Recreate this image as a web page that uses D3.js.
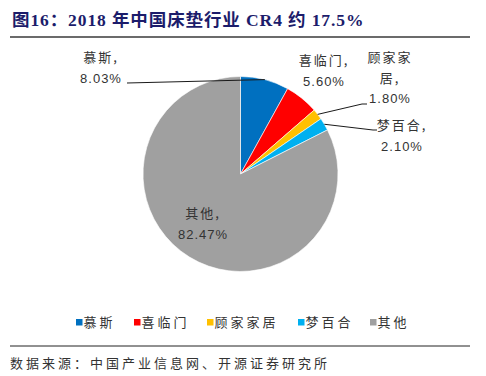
<!DOCTYPE html>
<html><head><meta charset="utf-8">
<script src="https://cdn.jsdelivr.net/npm/d3@7/dist/d3.min.js"></script>
<style>
html,body{margin:0;padding:0;background:#fff;}
svg{display:block;}
</style>
</head><body>
<div id="chart"></div>
<script>
// ---- data ----
const titleText = "图16：2018 年中国床垫行业 CR4 约 17.5%";
const sourceText = "数据来源：中国产业信息网、开源证券研究所";
const categories = ["慕斯", "喜临门", "顾家家居", "梦百合", "其他"];
const values = [8.03, 5.60, 1.80, 2.10, 82.47];
const valueLabels = ["8.03%", "5.60%", "1.80%", "2.10%", "82.47%"];
const nameLines = [["慕斯,"], ["喜临门,"], ["顾家家", "居,"], ["梦百合,"], ["其他,"]];
const colors = ["#0070C0", "#FF0000", "#FFC000", "#00B0F0", "#A0A0A0"];

// ---- layout (not data) ----
const W = 486, H = 376;
const cx = 240.5, cy = 174, R = 97.5;
// label anchor points (center x, first baseline y)
const labelPos = [[101, 62], [324, 65], [390, 62], [402, 130], [203, 218]];
const lineH = 20.5;
// leader line end points (null = no leader)
const leaderEnds = [[[127, 83]], null, [[362, 104], [367, 104]], [[373, 130], [377, 130]], null];

const svg = d3.select("#chart").append("svg").attr("width", W).attr("height", H);

const cjk = "'Noto Sans CJK SC', 'Noto Sans CJK JP', sans-serif";
const num = "'Liberation Sans', Arial, sans-serif";

// title
svg.append("text").attr("x", 12).attr("y", 26)
  .attr("font-family", "'Liberation Serif', 'Noto Sans CJK SC', serif")
  .attr("font-weight", "bold").attr("font-size", 17.5).attr("letter-spacing", 0.9).attr("fill", "#1C1C6B")
  .text(titleText);
svg.append("line").attr("x1", 10).attr("x2", 470).attr("y1", 37).attr("y2", 37)
  .attr("stroke", "#6b6b6b").attr("stroke-width", 2);

// pie
const pie = d3.pie().sort(null).value(d => d)(values);
const arc = d3.arc().innerRadius(0).outerRadius(R);
const g = svg.append("g").attr("transform", `translate(${cx},${cy})`);
g.selectAll("path").data(pie).join("path")
  .attr("d", arc).attr("fill", (d, i) => colors[i])
  .attr("stroke", "#ffffff").attr("stroke-width", 0.6);

// leader lines
const arcMid = d3.arc().innerRadius(R).outerRadius(R);
pie.forEach((d, i) => {
  if (!leaderEnds[i]) return;
  const c = arcMid.centroid(d);
  const pts = [[cx + c[0], cy + c[1]], ...leaderEnds[i]];
  svg.append("path").attr("d", d3.line()(pts))
    .attr("fill", "none").attr("stroke", "#1a1a1a").attr("stroke-width", 1);
});

// labels
categories.forEach((c, i) => {
  const [x, y] = labelPos[i];
  const t = svg.append("text").attr("text-anchor", "middle").attr("fill", "#333");
  nameLines[i].forEach((ln, k) => {
    t.append("tspan").attr("x", x).attr("y", y + k * lineH)
      .attr("font-family", cjk).attr("font-size", 13).attr("letter-spacing", 2)
      .text(ln);
  });
  t.append("tspan").attr("x", x).attr("y", y + nameLines[i].length * lineH)
    .attr("font-family", num).attr("font-size", 13).attr("letter-spacing", 1)
    .text(valueLabels[i]);
});

// legend
const legX = [76, 134, 207, 298, 370];
const legY = 322.5;
categories.forEach((c, i) => {
  svg.append("rect").attr("x", legX[i]).attr("y", legY - 3.5).attr("width", 6.5).attr("height", 6.5)
    .attr("fill", colors[i]);
  svg.append("text").attr("x", legX[i] + 7.5).attr("y", legY + 4.5)
    .attr("font-family", cjk).attr("font-size", 13).attr("letter-spacing", 3).attr("fill", "#333")
    .text(c);
});

// source
svg.append("line").attr("x1", 10).attr("x2", 470).attr("y1", 346).attr("y2", 346)
  .attr("stroke", "#222").attr("stroke-width", 1);
svg.append("text").attr("x", 10).attr("y", 368)
  .attr("font-family", cjk).attr("font-size", 13).attr("letter-spacing", 3).attr("fill", "#333")
  .text(sourceText);
</script>
</body></html>
